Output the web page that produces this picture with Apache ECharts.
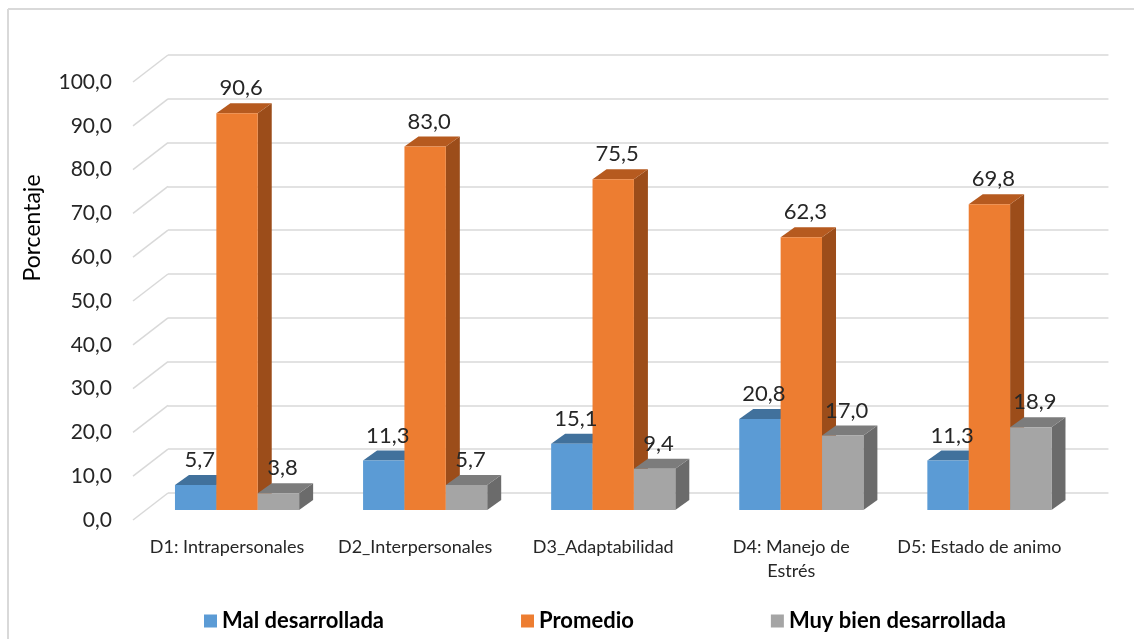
<!DOCTYPE html>
<html><head><meta charset="utf-8">
<script src="https://cdn.jsdelivr.net/npm/echarts@6/dist/echarts.min.js"></script>
<style>html,body{margin:0;padding:0;background:#fff}#c{width:1134px;height:639px}</style>
</head><body><div id="c"></div>
<script>
const categories = ['D1: Intrapersonales', 'D2_Interpersonales', 'D3_Adaptabilidad', 'D4: Manejo de\nEstrés', 'D5: Estado de animo'];
const malDesarrollada = [5.7, 11.3, 15.1, 20.8, 11.3];
const promedio = [90.6, 83.0, 75.5, 62.3, 69.8];
const muyBien = [3.8, 5.7, 9.4, 17.0, 18.9];
const yTicks = [0, 10, 20, 30, 40, 50, 60, 70, 80, 90, 100];
const seriesNames = ['Mal desarrollada', 'Promedio', 'Muy bien desarrollada'];
const yTitle = 'Porcentaje';

const FONT = 'Lato, "Liberation Sans", sans-serif';
const fmt = v => Number(v).toFixed(1).replace('.', ',');

const DX = 14, DY = -10;      // bar depth (3D look)
const SHIFT_X = -25, SHIFT_Y = 17; // bars stand in front of the back wall
const FLOOR_DX = -35, FLOOR_DY = 27; // front edge of the side wall

function makeBar(k, front, top, side) {
  return function (params, api) {
    const ci = api.value(0), v = api.value(1);
    const pTop = api.coord([ci, v]);
    const pBase = api.coord([ci, 0]);
    const band = api.size([1, 0])[0];
    const bw = band * 0.22;
    const x = pTop[0] + SHIFT_X - 1.5 * bw + k * bw;
    const yT = pTop[1] + SHIFT_Y, yB = pBase[1] + SHIFT_Y;
    return {
      type: 'group',
      children: [
        { type: 'polygon', shape: { points: [[x + bw, yT], [x + bw + DX, yT + DY], [x + bw + DX, yB + DY], [x + bw, yB]] }, style: { fill: side } },
        { type: 'polygon', shape: { points: [[x, yT], [x + DX, yT + DY], [x + bw + DX, yT + DY], [x + bw, yT]] }, style: { fill: top } },
        { type: 'rect', shape: { x: x, y: yT, width: bw, height: yB - yT }, style: { fill: front } },
        { type: 'text', z2: 100, style: { text: fmt(v), x: x + bw / 2 + 4, y: yT + DY - 15, align: 'center', verticalAlign: 'middle', textAlign: 'center', textVerticalAlign: 'middle', fontSize: 22, fontFamily: FONT, fill: '#262626' } }
      ]
    };
  };
}

const chart = echarts.init(document.getElementById('c'), null, { renderer: 'canvas' });
chart.setOption({
  backgroundColor: '#ffffff',
  animation: false,
  grid: { left: 168, right: 21, top: 55, bottom: 146, containLabel: false },
  graphic: [
    { type: 'line', shape: { x1: 8, y1: 9, x2: 1134, y2: 9 }, style: { stroke: '#d9d9d9', lineWidth: 2 } },
    { type: 'line', shape: { x1: 8, y1: 9, x2: 8, y2: 639 }, style: { stroke: '#d9d9d9', lineWidth: 2 } },
    { type: 'text', x: 33, y: 228, rotation: Math.PI / 2, style: { text: yTitle, align: 'center', verticalAlign: 'middle', textAlign: 'center', textVerticalAlign: 'middle', fontSize: 23, fontFamily: FONT, fill: '#000' } }
  ],
  legend: {
    data: seriesNames,
    left: 199, top: 605,
    icon: 'rect', itemWidth: 13, itemHeight: 13, itemGap: 137,
    textStyle: { fontSize: 22, fontWeight: 'bold', fontFamily: FONT, color: '#000' }
  },
  xAxis: {
    type: 'category', data: categories,
    axisLine: { show: false }, axisTick: { show: false },
    axisLabel: { interval: 0, hideOverlap: false, margin: 42, padding: [0, 70, 0, 0], fontSize: 18, lineHeight: 24, fontFamily: FONT, color: '#262626', align: 'center' },
    splitLine: { show: false }
  },
  yAxis: {
    type: 'value', min: 0, max: 100, interval: 10,
    axisLine: { show: false }, axisTick: { show: false },
    axisLabel: { show: false },
    splitLine: { lineStyle: { color: '#d9d9d9', width: 1.5 } }
  },
  series: [
    {
      type: 'custom', name: 'walls', silent: true,
      data: yTicks.map(v => [0, v]),
      renderItem: function (params, api) {
        const val = api.value(1);
        const p = api.coord([0, val]);
        const band = api.size([1, 0])[0];
        const x0 = p[0] - band / 2;
        return {
          type: 'group',
          children: [
            { type: 'line', shape: { x1: x0, y1: p[1], x2: x0 + FLOOR_DX, y2: p[1] + FLOOR_DY }, style: { stroke: '#d9d9d9', lineWidth: 1.5 } },
            { type: 'text', style: { text: fmt(val), x: x0 + FLOOR_DX - 21, y: p[1] + FLOOR_DY, align: 'right', verticalAlign: 'middle', textAlign: 'right', textVerticalAlign: 'middle', fontSize: 21, fontFamily: FONT, fill: '#262626' } }
          ]
        };
      }
    },
    { type: 'custom', name: seriesNames[0], itemStyle: { color: '#5B9BD5' }, data: malDesarrollada.map((v, i) => [i, v]), renderItem: makeBar(0, '#5B9BD5', '#41719C', '#3F6E98') },
    { type: 'custom', name: seriesNames[1], itemStyle: { color: '#ED7D31' }, data: promedio.map((v, i) => [i, v]), renderItem: makeBar(1, '#ED7D31', '#B65A1F', '#9C4D1A') },
    { type: 'custom', name: seriesNames[2], itemStyle: { color: '#A5A5A5' }, data: muyBien.map((v, i) => [i, v]), renderItem: makeBar(2, '#A5A5A5', '#7C7C7C', '#6B6B6B') }
  ]
});
</script>
</body></html>
